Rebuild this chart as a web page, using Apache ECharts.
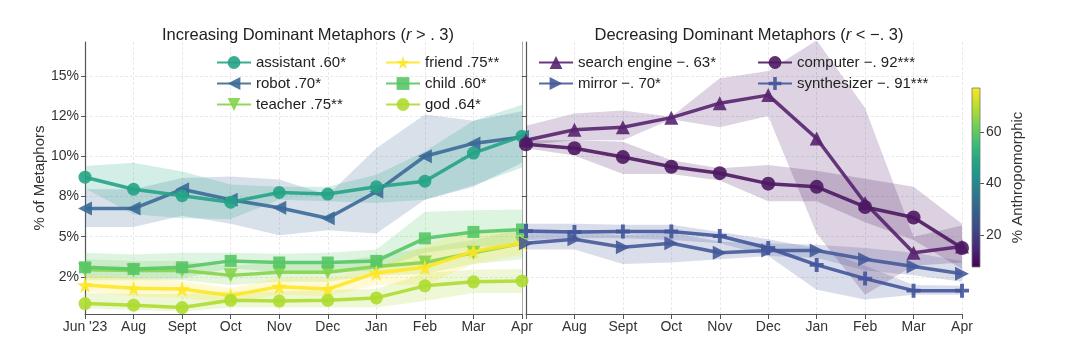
<!DOCTYPE html>
<html>
<head>
<meta charset="utf-8">
<script src="https://cdn.jsdelivr.net/npm/echarts@6/dist/echarts.min.js"></script>
<style>
  html, body { margin: 0; padding: 0; background: #fff; }
  #chart { width: 1076px; height: 352px; }
</style>
</head>
<body>
<div id="chart"></div>
<script>
// months on the x axis (same for both panels)
const months = ["Jun '23", 'Aug', 'Sept', 'Oct', 'Nov', 'Dec', 'Jan', 'Feb', 'Mar', 'Apr']

// y ticks: values and the labels matplotlib printed for them
const yTickValues = [2.5, 5, 7.5, 10, 12.5, 15]
const yTickLabels = ['2%', '5%', '8%', '10%', '12%', '15%']
const yRange = [0.2, 17.1]

// colorbar
const cbarRange = [7.5, 77]
const cbarTicks = [20, 40, 60]

// increasing metaphors (mean, lower, upper)
const assistantMean = [8.7, 7.95, 7.55, 7.15, 7.75, 7.65, 8.1, 8.45, 10.2, 11.25]
const assistantLo = [8.0, 6.4, 6.15, 6.1, 7.3, 7.2, 7.1, 7.3, 8.2, 9.3]
const assistantHi = [9.4, 9.6, 9.05, 8.25, 8.1, 8.1, 8.85, 10.3, 12.2, 13.2]

const robotMean = [6.75, 6.75, 7.95, 7.3, 6.8, 6.15, 7.8, 10.0, 10.8, 11.2]
const robotLo = [5.6, 5.6, 6.3, 5.8, 5.1, 5.4, 5.2, 7.3, 8.1, 9.6]
const robotHi = [7.95, 7.95, 8.65, 8.75, 8.55, 7.6, 10.5, 12.6, 12.2, 12.8]

const teacherMean = [2.95, 2.9, 2.9, 2.6, 2.8, 2.8, 3.15, 3.4, 4.0, 4.6]
const teacherLo = [2.3, 2.3, 2.3, 2.0, 2.2, 2.2, 2.6, 2.7, 3.3, 3.6]
const teacherHi = [3.6, 3.5, 3.5, 3.2, 3.4, 3.4, 3.8, 4.3, 4.8, 5.5]

const friendMean = [2.0, 1.8, 1.75, 1.35, 1.9, 1.75, 2.75, 3.1, 4.1, 4.6]
const friendLo = [1.6, 1.3, 1.2, 0.9, 1.4, 1.3, 2.0, 2.0, 3.3, 3.9]
const friendHi = [2.65, 2.45, 2.25, 1.8, 2.45, 2.45, 3.0, 4.5, 5.45, 5.2]

const childMean = [3.1, 3.0, 3.1, 3.5, 3.4, 3.4, 3.5, 4.9, 5.3, 5.45]
const childLo = [2.45, 2.4, 2.4, 3.05, 2.8, 2.75, 2.9, 4.0, 4.4, 4.4]
const childHi = [4.0, 3.9, 4.0, 4.0, 3.95, 4.0, 4.2, 6.55, 6.65, 6.7]

const godMean = [0.85, 0.75, 0.6, 1.05, 1.0, 1.05, 1.2, 1.95, 2.2, 2.25]
const godLo = [0.55, 0.45, 0.35, 0.6, 0.6, 0.6, 0.6, 1.0, 1.5, 1.5]
const godHi = [1.5, 1.45, 1.45, 1.6, 1.6, 1.7, 1.75, 2.75, 2.95, 3.0]

// decreasing metaphors
const searchMean = [11.0, 11.65, 11.8, 12.4, 13.3, 13.8, 11.1, 7.1, 4.0, 4.4]
const searchLo = [10.7, 11.0, 11.0, 12.3, 11.8, 12.5, 5.2, 1.4, 3.2, 3.4]
const searchHi = [11.9, 12.65, 12.85, 12.45, 14.85, 15.3, 17.2, 13.0, 5.0, 5.7]

const computerMean = [10.75, 10.5, 9.95, 9.35, 8.95, 8.3, 8.1, 6.85, 6.2, 4.3]
const computerLo = [10.5, 10.05, 8.9, 8.9, 8.5, 7.2, 7.2, 5.9, 4.8, 3.0]
const computerHi = [11.0, 11.0, 10.9, 9.75, 9.25, 9.45, 9.1, 8.6, 8.1, 5.8]

const mirrorMean = [4.6, 4.85, 4.35, 4.6, 4.0, 4.15, 4.15, 3.6, 3.15, 2.7]
const mirrorLo = [4.2, 4.2, 3.3, 3.4, 3.6, 3.8, 3.7, 2.9, 2.6, 2.2]
const mirrorHi = [5.25, 5.3, 5.1, 5.25, 4.7, 4.6, 4.5, 4.3, 4.0, 3.5]

const synthMean = [5.35, 5.3, 5.33, 5.33, 5.05, 4.3, 3.25, 2.4, 1.65, 1.65]
const synthLo = [4.8, 4.9, 4.9, 4.8, 4.6, 3.8, 1.7, 1.1, 1.4, 1.4]
const synthHi = [5.8, 5.8, 5.75, 5.75, 5.3, 4.85, 4.3, 3.2, 2.0, 1.95]

// marker shapes
const STAR = 'path://M50,0 L61,35 L98,35 L68,57 L79,91 L50,70 L21,91 L32,57 L2,35 L39,35 Z'
const PLUS = 'path://M36,0 H64 V36 H100 V64 H64 V100 H36 V64 H0 V36 H36 Z'

const viridis = ['#fde725', '#bddf26', '#7ad151', '#44bf70', '#22a884', '#21918c',
  '#2a788e', '#355f8d', '#414487', '#482475', '#440154']

const FONT = 'Liberation Sans, Arial, sans-serif'

// panel, name, data, style
const metaphors = [
  { g: 0, name: 'robot .70*', mean: robotMean, lo: robotLo, hi: robotHi, color: '#3b6a98', symbol: 'triangle', rotate: 90, size: 14 },
  { g: 0, name: 'assistant .60*', mean: assistantMean, lo: assistantLo, hi: assistantHi, color: '#25a386', symbol: 'circle', rotate: 0, size: 13 },
  { g: 0, name: 'teacher .75**', mean: teacherMean, lo: teacherLo, hi: teacherHi, color: '#84d44b', symbol: 'triangle', rotate: 180, size: 14 },
  { g: 0, name: 'child .60*', mean: childMean, lo: childLo, hi: childHi, color: '#56c667', symbol: 'rect', rotate: 0, size: 12 },
  { g: 0, name: 'friend .75**', mean: friendMean, lo: friendLo, hi: friendHi, color: '#fde725', symbol: STAR, rotate: 0, size: 16 },
  { g: 0, name: 'god .64*', mean: godMean, lo: godLo, hi: godHi, color: '#addc30', symbol: 'circle', rotate: 0, size: 13 },
  { g: 1, name: 'mirror −. 70*', mean: mirrorMean, lo: mirrorLo, hi: mirrorHi, color: '#465a99', symbol: 'triangle', rotate: -90, size: 14 },
  { g: 1, name: 'synthesizer −. 91***', mean: synthMean, lo: synthLo, hi: synthHi, color: '#43559a', symbol: PLUS, rotate: 0, size: 14 },
  { g: 1, name: 'search engine −. 63*', mean: searchMean, lo: searchLo, hi: searchHi, color: '#56236f', symbol: 'triangle', rotate: 0, size: 14 },
  { g: 1, name: 'computer −. 92***', mean: computerMean, lo: computerLo, hi: computerHi, color: '#4d1862', symbol: 'circle', rotate: 0, size: 14 }
]

function tickLabel(v) {
  const i = yTickValues.indexOf(v)
  return i >= 0 ? yTickLabels[i] : ''
}

const series = []
metaphors.forEach((m, k) => {
  // band: invisible lower line + stacked difference with fill
  series.push({
    type: 'line', xAxisIndex: m.g, yAxisIndex: m.g, stack: 'band' + k,
    data: m.lo, symbol: 'none', lineStyle: { opacity: 0 }, silent: true, z: 1
  })
  series.push({
    type: 'line', xAxisIndex: m.g, yAxisIndex: m.g, stack: 'band' + k,
    data: m.hi.map((h, i) => +(h - m.lo[i]).toFixed(3)),
    symbol: 'none', lineStyle: { opacity: 0 },
    areaStyle: { color: m.color, opacity: 0.2 }, silent: true, z: 1
  })
})
metaphors.forEach(m => {
  series.push({
    name: m.name, type: 'line', xAxisIndex: m.g, yAxisIndex: m.g,
    data: m.mean, symbol: m.symbol, symbolSize: m.size, symbolRotate: m.rotate,
    showAllSymbol: true,
    lineStyle: { width: 3.5, color: m.color, opacity: 0.9 },
    itemStyle: { color: m.color, opacity: 0.9 }, z: 3
  })
})

// colorbar drawn through its own axis
series.push({
  type: 'custom', xAxisIndex: 2, yAxisIndex: 2, silent: true,
  data: [[0, cbarRange[0], cbarRange[1]]],
  renderItem(params, api) {
    const lo = api.coord([api.value(0), api.value(1)])
    const hi = api.coord([api.value(0), api.value(2)])
    const w = api.size([1, 0])[0]
    return {
      type: 'rect',
      shape: { x: lo[0] - w / 2, y: hi[1], width: w, height: lo[1] - hi[1] },
      style: {
        fill: new echarts.graphic.LinearGradient(0, 0, 0, 1,
          viridis.map((c, i) => ({ offset: i / (viridis.length - 1), color: c }))),
        stroke: '#777', lineWidth: 0.8
      }
    }
  }
})

const axisLineStyle = { color: '#555', width: 1.2 }
const gridLine = { show: true, lineStyle: { color: '#e3e3e3', type: [3, 2], width: 0.8 } }

function xAxis(g) {
  return {
    type: 'category', gridIndex: g, data: months, boundaryGap: false,
    axisLine: { lineStyle: axisLineStyle },
    axisTick: { length: 5, lineStyle: { color: '#555' } },
    axisLabel: {
      interval: 0, margin: 6, fontSize: 14, color: '#333', fontFamily: FONT,
      formatter: (v, i) => (g === 1 && i === 0 ? '' : v)
    },
    splitLine: gridLine
  }
}

function yAxis(g) {
  return {
    type: 'value', gridIndex: g, min: yRange[0], max: yRange[1],
    axisLine: { show: true, lineStyle: axisLineStyle },
    axisTick: { show: true, length: 4, customValues: yTickValues, lineStyle: { color: '#555' } },
    axisLabel: {
      show: g === 0, customValues: yTickValues, formatter: tickLabel,
      fontSize: 14, color: '#333', margin: 6, fontFamily: FONT
    },
    splitLine: gridLine,
    name: g === 0 ? '% of Metaphors' : '',
    nameLocation: 'middle', nameGap: 37,
    nameTextStyle: { fontSize: 15, color: '#333', fontFamily: FONT }
  }
}

function legend(left, top, names) {
  return {
    orient: 'vertical', left, top, padding: 0, itemGap: 6,
    itemWidth: 34, itemHeight: 16, data: names,
    textStyle: { fontSize: 15, color: '#222', fontFamily: FONT }
  }
}

const titleStyle = {
  fontWeight: 'normal',
  rich: {
    a: { fontSize: 16.5, color: '#222', fontFamily: FONT, fontWeight: 'normal' },
    b: { fontSize: 16.5, color: '#222', fontFamily: FONT, fontWeight: 'normal', fontStyle: 'italic' }
  }
}

const chart = echarts.init(document.getElementById('chart'))
chart.setOption({
  animation: false,
  backgroundColor: '#fff',
  title: [
    { text: '{a|Increasing Dominant Metaphors (}{b|r}{a| > . 3)}', left: 303, top: 22, textAlign: 'center', textStyle: titleStyle },
    { text: '{a|Decreasing Dominant Metaphors (}{b|r}{a| < −. 3)}', left: 744, top: 22, textAlign: 'center', textStyle: titleStyle }
  ],
  legend: [
    legend(216, 55, ['assistant .60*', 'robot .70*', 'teacher .75**']),
    legend(385, 55, ['friend .75**', 'child .60*', 'god .64*']),
    legend(538, 55, ['search engine −. 63*', 'mirror −. 70*']),
    legend(757, 55, ['computer −. 92***', 'synthesizer −. 91***'])
  ],
  grid: [
    { left: 85, top: 42, width: 437, height: 272 },
    { left: 526, top: 42, width: 436, height: 272 },
    { left: 972, top: 88, width: 8, height: 179 }
  ],
  xAxis: [
    xAxis(0),
    xAxis(1),
    { type: 'category', gridIndex: 2, data: ['c'], show: false }
  ],
  yAxis: [
    yAxis(0),
    yAxis(1),
    {
      type: 'value', gridIndex: 2, position: 'right', min: cbarRange[0], max: cbarRange[1],
      axisLine: { show: false },
      axisTick: { show: true, length: 4, customValues: cbarTicks, lineStyle: { color: '#555' } },
      axisLabel: { customValues: cbarTicks, fontSize: 14, color: '#333', margin: 6, fontFamily: FONT },
      splitLine: { show: false },
      name: '% Anthropomorphic', nameLocation: 'middle', nameRotate: 90, nameGap: 30,
      nameTextStyle: { fontSize: 15, color: '#333', fontFamily: FONT }
    },
    // thin right frame of the left panel
    {
      type: 'value', gridIndex: 0, position: 'right', min: yRange[0], max: yRange[1],
      axisLine: { show: true, lineStyle: { color: '#aaa', width: 1 } },
      axisTick: { show: false }, axisLabel: { show: false }, splitLine: { show: false }
    }
  ],
  series
})
</script>
</body>
</html>
